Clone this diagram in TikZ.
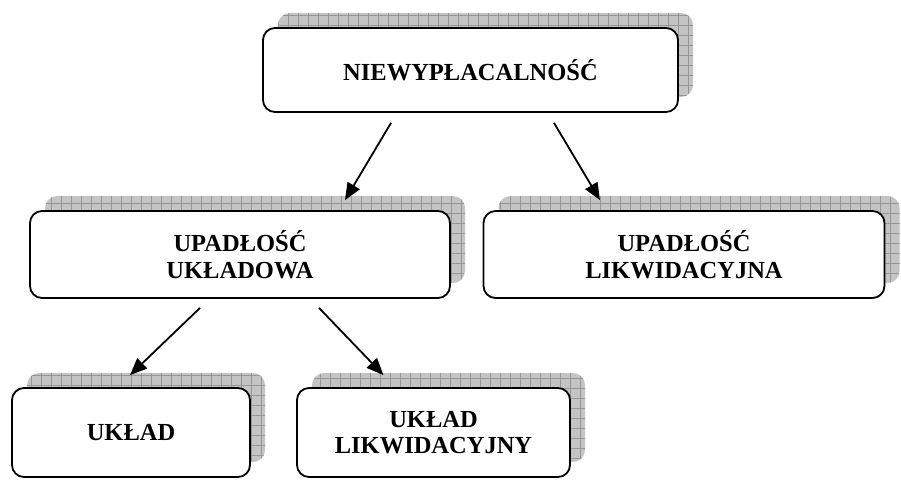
\documentclass[tikz,border=0pt]{standalone}
\usepackage{fontspec}
\setmainfont{Liberation Serif}
\usetikzlibrary{shadows, arrows.meta}
\definecolor{shade}{RGB}{196, 196, 196}
\definecolor{gridline}{RGB}{150, 150, 150}

\begin{document}
\begin{tikzpicture}[x=1pt, y=-1pt,
  box/.style={draw, line width=1.8pt, rounded corners=12pt, fill=white, align=center,
    inner sep=0pt, font=\bfseries\fontsize{24.5}{26.5}\selectfont,
    general shadow={shadow xshift=15pt, shadow yshift=15pt, draw=none, fill=shade,
      path picture={\draw[gridline, line width=0.6pt, step=10pt]
        (path picture bounding box.south west) grid (path picture bounding box.north east);}}},
  arr/.style={-{Triangle[length=17pt, width=14pt]}, line width=1.8pt}]

\useasboundingbox (0, 0) rectangle (901, 479);

\node[box, minimum width=415, minimum height=84] (niewyp) at (470.5, 70) {NIEWYPŁACALNOŚĆ};

\node[box, minimum width=420, minimum height=87] (ukladowa) at (240, 254.5) {UPADŁOŚĆ\\UKŁADOWA};
\node[box, minimum width=401, minimum height=87] (likwid) at (684, 254.5) {UPADŁOŚĆ\\LIKWIDACYJNA};

\node[box, minimum width=238, minimum height=89] (uklad) at (131, 432.5) {UKŁAD};
\node[box, minimum width=273, minimum height=89] (ukladlik) at (433.5, 432.5) {UKŁAD\\LIKWIDACYJNY};

\draw[arr] ([xshift=-79.5pt, yshift=-10pt]niewyp.south) -- ([xshift=105pt, yshift=10pt]ukladowa.north);
\draw[arr] ([xshift=83.5pt, yshift=-10pt]niewyp.south) -- ([xshift=-84pt, yshift=10pt]likwid.north);

\draw[arr] ([xshift=-40pt, yshift=-9pt]ukladowa.south) -- ([xshift=-1pt, yshift=12pt]uklad.north);
\draw[arr] ([xshift=79pt, yshift=-9pt]ukladowa.south) -- ([xshift=-50pt, yshift=12pt]ukladlik.north);

\end{tikzpicture}
\end{document}
